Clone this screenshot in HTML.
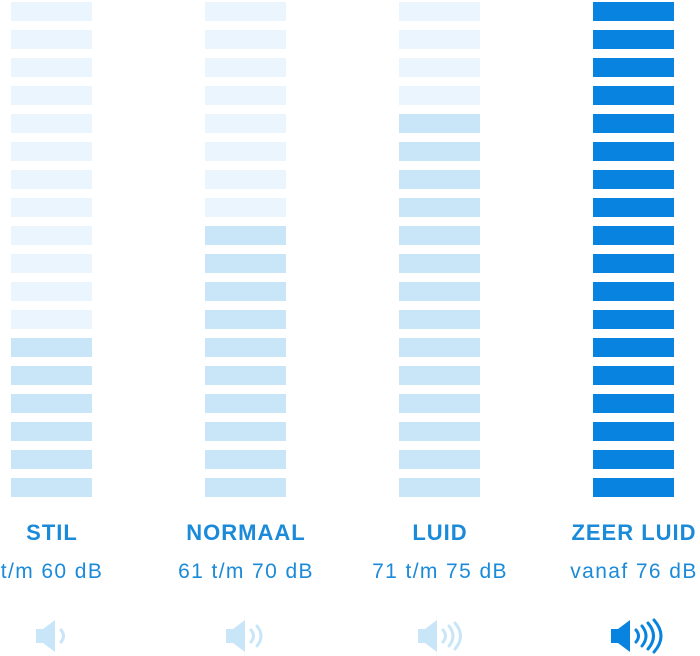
<!DOCTYPE html>
<html><head><meta charset="utf-8"><style>
body{margin:0;width:700px;height:656px;background:#fff;position:relative;overflow:hidden;font-family:"Liberation Sans","DejaVu Sans",sans-serif}
.b{position:absolute;width:81px;height:19px}
.l{background:#eaf5fd}.m{background:#c9e6f8}.d{background:#0884e0}
.t{position:absolute;width:200px;text-align:center;color:#1a8ad9;white-space:nowrap}
.h{top:520px;font-size:22px;font-weight:bold;letter-spacing:1px}
.s{top:560px;font-size:21px;letter-spacing:1.4px}
svg{position:absolute;top:618px}
</style></head><body>
<div id="c"></div>
<div class="t h" style="left:-48px">STIL</div>
<div class="t h" style="left:146px">NORMAAL</div>
<div class="t h" style="left:340px">LUID</div>
<div class="t h" style="left:534px">ZEER LUID</div>
<div class="t s" style="left:-48px">t/m 60 dB</div>
<div class="t s" style="left:146px">61 t/m 70 dB</div>
<div class="t s" style="left:340px">71 t/m 75 dB</div>
<div class="t s" style="left:534px">vanaf 76 dB</div>
<svg style="left:34px" width="50" height="36" viewBox="0 0 50 36"><path d="M2 11h7l12-9v32l-12-9H2z" fill="#c9e6f8"/><path d="M27 12q5 6 0 12" stroke="#c9e6f8" stroke-width="3" fill="none" stroke-linecap="round"/></svg>
<svg style="left:224px" width="50" height="36" viewBox="0 0 50 36"><path d="M2 11h7l12-9v32l-12-9H2z" fill="#c9e6f8"/><path d="M27 12q5 6 0 12M33 8q8 10 0 20" stroke="#c9e6f8" stroke-width="3" fill="none" stroke-linecap="round"/></svg>
<svg style="left:416px" width="56" height="36" viewBox="0 0 56 36"><path d="M2 11h7l12-9v32l-12-9H2z" fill="#c9e6f8"/><path d="M27 12q5 6 0 12M33 8q8 10 0 20M39 5q11 13 0 26" stroke="#c9e6f8" stroke-width="3" fill="none" stroke-linecap="round"/></svg>
<svg style="left:609px" width="60" height="36" viewBox="0 0 60 36"><path d="M2 11h7l12-9v32l-12-9H2z" fill="#0884e0"/><path d="M27 12q5 6 0 12M33 8q8 10 0 20M39 5q11 13 0 26M45 2q14 16 0 32" stroke="#0884e0" stroke-width="3" fill="none" stroke-linecap="round"/></svg>
<script>
var xs=[11,205,399,593],light=[12,8,4,0],h='';
for(var c=0;c<4;c++)for(var i=0;i<18;i++){var k=c==3?'d':(i<light[c]?'l':'m');h+='<div class="b '+k+'" style="left:'+xs[c]+'px;top:'+(2+28*i)+'px"></div>';}
document.getElementById('c').innerHTML=h;
</script>
</body></html>
